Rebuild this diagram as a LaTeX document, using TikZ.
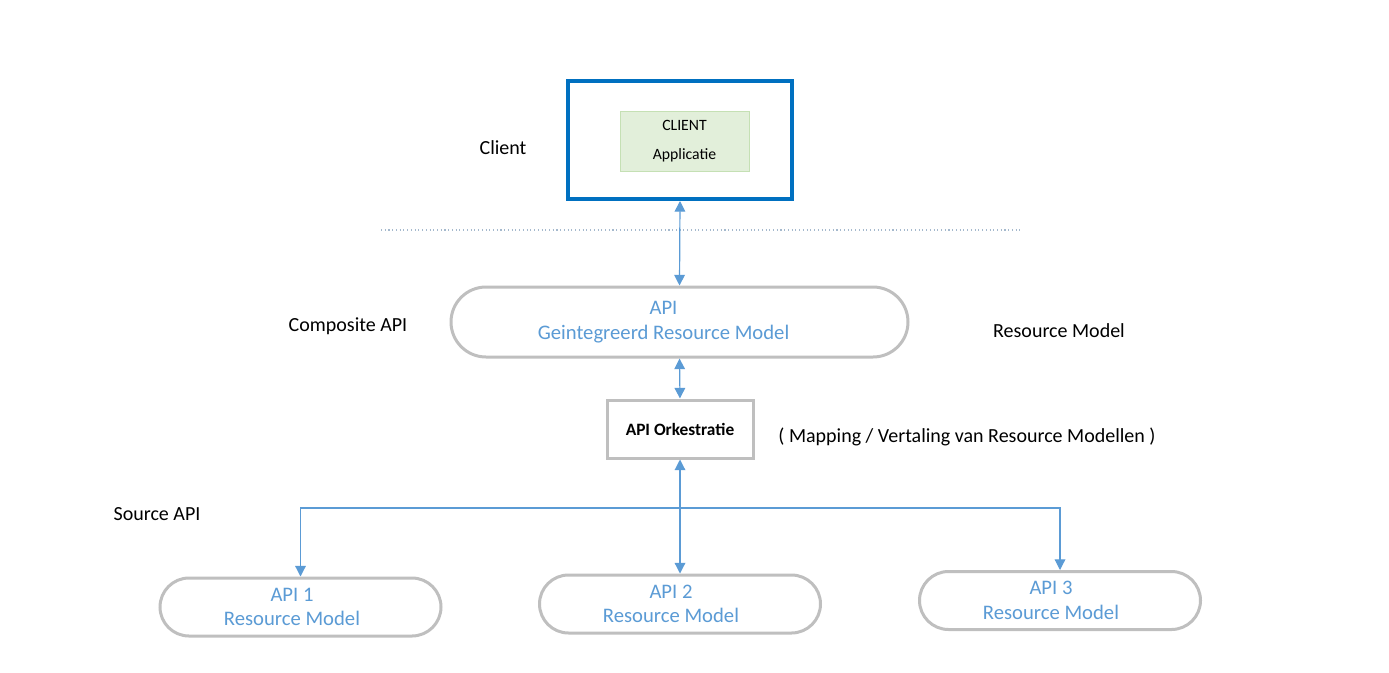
\documentclass[tikz,border=0pt]{standalone}
\usepackage{fontspec}
\setmainfont{Carlito}
\usetikzlibrary{arrows.meta,shapes.misc}
\definecolor{arrowblue}{RGB}{91,155,213}
\definecolor{clientblue}{RGB}{0,112,192}
\definecolor{boxgray}{RGB}{191,191,191}
\definecolor{appgreen}{RGB}{226,239,218}
\definecolor{appedge}{RGB}{197,224,180}
\definecolor{dotgray}{RGB}{165,185,205}
\tikzset{
  label text/.style={font=\fontsize{15}{18}\selectfont, text=black},
  model box/.style={rounded rectangle, draw=boxgray, line width=2.25pt, fill=white, inner sep=0pt},
  model text/.style={text=arrowblue, align=center, font=\fontsize{15.5}{18.5}\selectfont, inner sep=0pt},
  link/.style={arrowblue, line width=0.9pt, {Triangle[width=8pt,length=8pt]}-{Triangle[width=8pt,length=8pt]}},
  down link/.style={arrowblue, line width=0.9pt, -{Triangle[width=8pt,length=8pt]}}
}
\begin{document}
\begin{tikzpicture}[x=0.75pt, y=-0.75pt]
  \useasboundingbox (0,0) rectangle (1389,672);
  % client
  \node[draw=clientblue, line width=3pt, minimum width=168pt, minimum height=88.5pt] (client) at (680,140) {};
  \node[draw=appedge, fill=appgreen, minimum width=96.75pt, minimum height=45pt, align=center,
    font=\fontsize{11.8}{21.75}\selectfont] (app) at (684.5,141) {CLIENT\\Applicatie};
  \node[label text] (clientlbl) at (503,148) {Client};
  % scheidslijn
  \draw[dotgray, line width=0.8pt, dotted] (381,230) -- (1020,230);
  % composite
  \node[model box, minimum width=342.75pt, minimum height=52.5pt] (comp) at (679.5,322) {};
  \node[model text] (comptxt) at (663.5,322) {API\\Geintegreerd Resource Model};
  \node[label text] (complbl) at (348,326) {Composite API};
  \node[label text] (reslbl) at (1059,331) {Resource Model};
  % orkestratie
  \node[draw=boxgray, line width=2.25pt, fill=white, minimum width=109.5pt, minimum height=43.5pt,
    font=\bfseries\fontsize{13}{15}\selectfont] (orch) at (680,429) {API Orkestratie};
  \node[label text] (maplbl) at (967,437) {( Mapping / Vertaling van Resource Modellen )};
  % source
  \node[label text] (srclbl) at (157,514) {Source API};
  \node[model box, minimum width=210.75pt, minimum height=43.5pt] (api1) at (300.5,607) {};
  \node[model box, minimum width=210.75pt, minimum height=43.5pt] (api2) at (680,604) {};
  \node[model box, minimum width=210.75pt, minimum height=43.5pt] (api3) at (1060,600.5) {};
  \node[model text] (api1txt) at (292,607) {API 1\\Resource Model};
  \node[model text] (api2txt) at (671,604) {API 2\\Resource Model};
  \node[model text] (api3txt) at (1051,600.5) {API 3\\Resource Model};
  \coordinate (fork) at (680,508);
  % verbindingen
  \draw[link] (client.south) -- (comp.north);
  \draw[link] (comp.south) -- (orch.north);
  \draw[link] (orch.south) -- (api2.north);
  \draw[down link] (fork) -| (api1.north);
  \draw[down link] (fork) -| (api3.north);
\end{tikzpicture}
\end{document}
